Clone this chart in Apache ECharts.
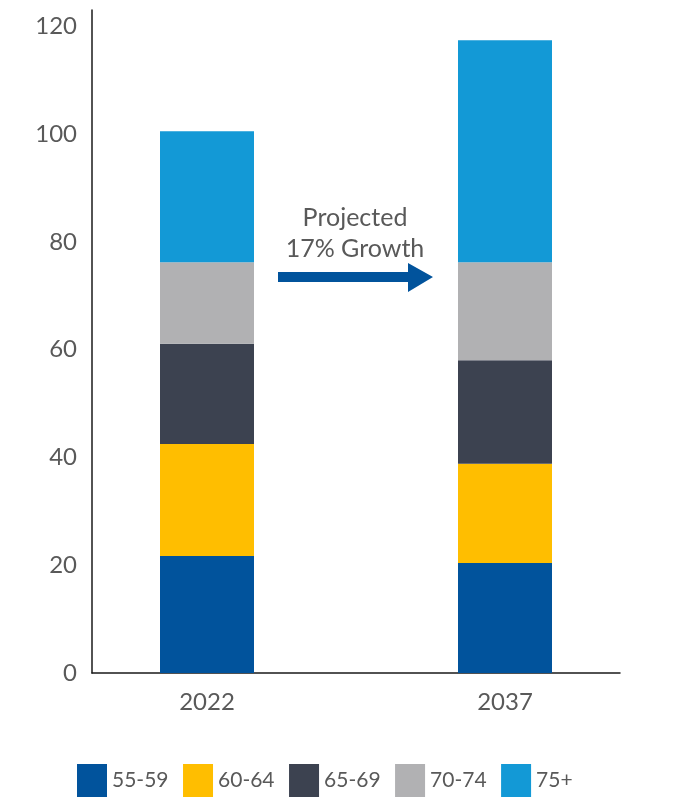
<!DOCTYPE html>
<html>
<head>
<meta charset="utf-8">
<script src="https://cdn.jsdelivr.net/npm/echarts@6/dist/echarts.min.js"></script>
<style>
  html, body { margin: 0; padding: 0; background: #ffffff; }
  #chart { width: 689px; height: 798px; }
</style>
</head>
<body>
<div id="chart"></div>
<script>
// 数据
const categories = ['2022', '2037'];
const ageGroups = ['55-59', '60-64', '65-69', '70-74', '75+'];
const age55to59 = [21.7, 20.4];
const age60to64 = [20.8, 18.4];
const age65to69 = [18.6, 19.2];
const age70to74 = [15.1, 18.2];
const age75plus = [24.3, 41.2];
const groupColors = ['#01539c', '#ffbe00', '#3c4250', '#b1b1b3', '#1399d6'];
const noteLines = ['Projected', '17% Growth'];

const values = [age55to59, age60to64, age65to69, age70to74, age75plus];
const textColor = '#595959';
const font = 'Lato';

var myChart = echarts.init(document.getElementById('chart'));

var option = {
    animation: false,
    grid: [
        // 坐标轴线所在的网格
        { left: 92, right: 69, top: 10, bottom: 125 },
        // 柱子所在的网格（类目中心与参考图对齐）
        { left: 58, right: 35, top: 10, bottom: 125 }
    ],
    xAxis: [
        {
            gridIndex: 0,
            type: 'category',
            data: categories,
            axisLine: { show: true, lineStyle: { color: '#1a1a1a', width: 1.5 } },
            axisTick: { show: false },
            axisLabel: { show: false }
        },
        {
            gridIndex: 1,
            type: 'category',
            data: categories,
            axisLine: { show: false },
            axisTick: { show: false },
            axisLabel: {
                color: textColor,
                fontFamily: font,
                fontSize: 24,
                margin: 17
            }
        }
    ],
    yAxis: [
        {
            gridIndex: 0,
            type: 'value',
            min: 0,
            max: 123,
            interval: 20,
            splitLine: { show: false },
            axisLine: { show: true, lineStyle: { color: '#1a1a1a', width: 1.5 } },
            axisTick: { show: false },
            axisLabel: {
                color: textColor,
                fontFamily: font,
                fontSize: 24,
                margin: 15,
                showMaxLabel: false
            }
        },
        {
            gridIndex: 1,
            type: 'value',
            min: 0,
            max: 123,
            interval: 20,
            show: false,
            splitLine: { show: false }
        }
    ],
    legend: {
        data: ageGroups,
        left: 77,
        top: 764,
        padding: 0,
        itemWidth: 30,
        itemHeight: 33,
        itemGap: 14.5,
        icon: 'rect',
        textStyle: {
            color: textColor,
            fontFamily: font,
            fontSize: 21,
            width: 56
        }
    },
    graphic: [
        {
            type: 'text',
            x: 355,
            y: 202,
            style: {
                text: noteLines.join('\n'),
                fill: textColor,
                font: '25px Lato',
                align: 'center',
                verticalAlign: 'top',
                lineHeight: 31
            }
        },
        {
            type: 'polygon',
            shape: {
                points: [[278, 272], [408, 272], [408, 263], [433, 277], [408, 292], [408, 282], [278, 282]]
            },
            style: { fill: '#01539c' }
        }
    ],
    series: ageGroups.map(function (name, i) {
        return {
            name: name,
            type: 'bar',
            stack: 'total',
            xAxisIndex: 1,
            yAxisIndex: 1,
            barWidth: 94,
            itemStyle: { color: groupColors[i] },
            data: values[i]
        };
    })
};

myChart.setOption(option);
</script>
</body>
</html>
